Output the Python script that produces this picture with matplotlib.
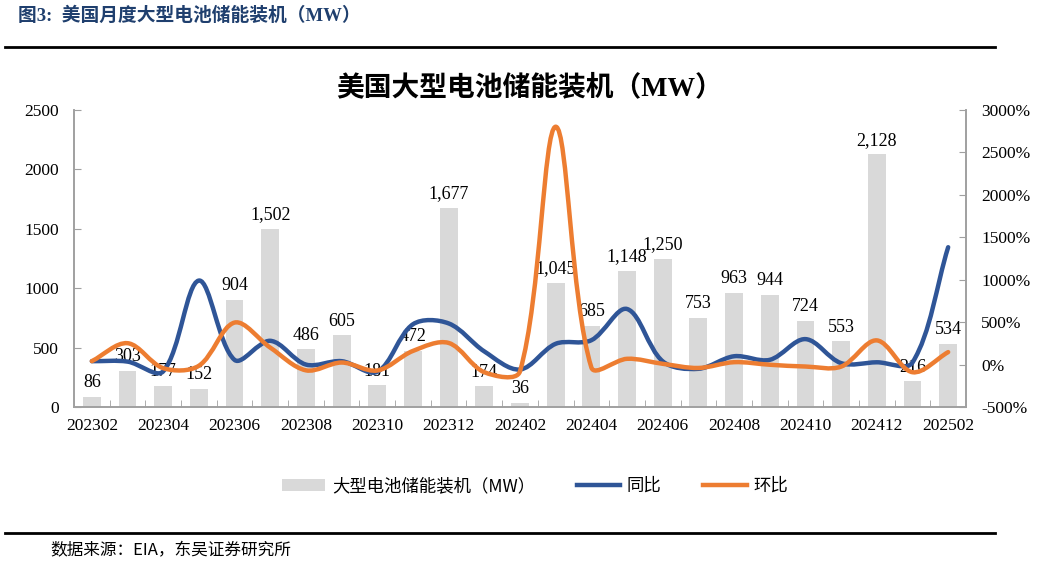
import numpy as np
import matplotlib
matplotlib.use("Agg")
import matplotlib.pyplot as plt
from matplotlib.path import Path
from matplotlib.patches import PathPatch, Patch
from matplotlib.lines import Line2D

plt.rcParams['font.family'] = ['Liberation Serif', 'Noto Sans CJK SC']
plt.rcParams['axes.unicode_minus'] = False

# 数据
months = ['202302', '202303', '202304', '202305', '202306', '202307', '202308',
          '202309', '202310', '202311', '202312', '202401', '202402', '202403',
          '202404', '202405', '202406', '202407', '202408', '202409', '202410',
          '202411', '202412', '202501', '202502']
capacity = [86, 303, 177, 152, 904, 1502, 486, 605, 181, 472, 1677, 174, 36,
            1045, 685, 1148, 1250, 753, 963, 944, 724, 553, 2128, 216, 534]
yoy = [40, 35, -80, 990, 55, 280, 0, 40, -85, 475, 485, 155, -58, 245, 287,
       655, 38, -50, 98, 56, 300, 17, 27, 24, 1383]
mom = [40, 252, -42, -14, 495, 200, -68, 24, -70, 161, 255, -90, -79, 2803,
       -34, 68, 9, -40, 28, -2, -23, -24, 285, -90, 147]

BAR_C = '#D9D9D9'
BLUE = '#2F5597'
ORANGE = '#ED7D31'
AXIS_C = '#A0A0A0'
CJK = ['Noto Sans CJK SC', 'DejaVu Sans']

AX_W, AX_H = 966 - 74, 407 - 110   # 绘图区像素尺寸


def smooth_path(xs, ys, xspan, yspan):
    # Excel 风格平滑线：按屏幕距离分配切线长度的贝塞尔曲线
    sx = AX_W / xspan
    sy = AX_H / yspan
    P = np.column_stack([np.asarray(xs, float) * sx, np.asarray(ys, float) * sy])
    n = len(P)
    before = [None] * n
    after = [None] * n
    for i in range(n):
        p_prev = P[i - 1] if i > 0 else P[i]
        p_next = P[i + 1] if i < n - 1 else P[i]
        d_prev = np.hypot(*(P[i] - p_prev))
        d_next = np.hypot(*(p_next - P[i]))
        tot = d_prev + d_next
        tan = p_next - p_prev
        before[i] = P[i] - tan * (d_prev / tot) / 3 if tot else P[i]
        after[i] = P[i] + tan * (d_next / tot) / 3 if tot else P[i]
    verts = [P[0]]
    codes = [Path.MOVETO]
    for i in range(n - 1):
        verts += [after[i], before[i + 1], P[i + 1]]
        codes += [Path.CURVE4] * 3
    verts = np.array(verts) / [sx, sy]
    return Path(verts, codes)


fig = plt.figure(figsize=(10.45, 5.73), dpi=100)
ax = fig.add_axes([74 / 1045, 1 - 407 / 573, AX_W / 1045, AX_H / 573])
ax2 = ax.twinx()

x = np.arange(len(months))
ax.bar(x, capacity, width=0.5, color=BAR_C, zorder=1)
for xi, v in zip(x, capacity):
    ax.annotate(f'{v:,}', (xi, v), xytext=(0, 4), textcoords='offset points',
                ha='center', va='bottom', fontsize=13, color='black')

ax.set_xlim(-0.5, len(months) - 0.5)
ax.set_ylim(0, 2500)
ax.set_yticks(range(0, 2501, 500))
ax.set_xticks(x[::2])
ax.set_xticklabels(months[::2])
ax.set_xticks(np.arange(-0.5, len(months), 1), minor=True)
ax.tick_params(axis='x', which='major', length=0, pad=8, labelsize=12.5)
ax.tick_params(axis='x', which='minor', direction='in', length=5, color=AXIS_C)
ax.tick_params(axis='y', direction='in', length=5, color=AXIS_C, pad=11, labelsize=12.5)

ax2.set_ylim(-500, 3000)
ax2.set_yticks(range(-500, 3001, 500))
ax2.set_yticklabels([f'{v}%' for v in range(-500, 3001, 500)])
ax2.tick_params(axis='y', direction='in', length=5, color=AXIS_C, pad=11, labelsize=12.5)

for a in (ax, ax2):
    a.spines['top'].set_visible(False)
    for s in ('left', 'right', 'bottom'):
        a.spines[s].set_color(AXIS_C)
        a.spines[s].set_linewidth(1.2)
ax2.patch.set_visible(False)

xspan = len(months)
ax2.add_patch(PathPatch(smooth_path(x, yoy, xspan, 3500), fill=False, edgecolor=BLUE,
                        lw=3.2, capstyle='round', joinstyle='round', zorder=3))
ax2.add_patch(PathPatch(smooth_path(x, mom, xspan, 3500), fill=False, edgecolor=ORANGE,
                        lw=3.2, capstyle='round', joinstyle='round', zorder=4))

# 标题与装饰
fig.text(18 / 1045, 1 - 16 / 573, '图3:  美国月度大型电池储能装机（MW）', fontsize=13.5,
         fontweight='bold', color='#1F3F6E', ha='left', va='center')
fig.add_artist(Line2D([5 / 1045, 995 / 1045], [1 - 47 / 573] * 2, color='black', lw=2))
fig.text(530 / 1045, 1 - 88 / 573, '美国大型电池储能装机（MW）', fontsize=20,
         fontweight='bold', ha='center', va='center')

handles = [Patch(facecolor=BAR_C, edgecolor='none'),
           Line2D([], [], color=BLUE, lw=3.2),
           Line2D([], [], color=ORANGE, lw=3.2)]
fig.legend(handles, ['大型电池储能装机（MW）', '同比', '环比'], loc='center',
           bbox_to_anchor=(535 / 1045, 1 - 486 / 573), ncol=3, frameon=False,
           prop={'family': CJK, 'size': 12.5}, handlelength=2.5, handleheight=0.7,
           columnspacing=2.4, handletextpad=0.4)

fig.add_artist(Line2D([5 / 1045, 995 / 1045], [1 - 533 / 573] * 2, color='black', lw=2))
fig.text(50 / 1045, 1 - 551 / 573, '数据来源：EIA，东吴证券研究所', fontsize=12,
         ha='left', va='center', family=CJK)

fig.savefig('out.png', dpi=100, facecolor='white')
